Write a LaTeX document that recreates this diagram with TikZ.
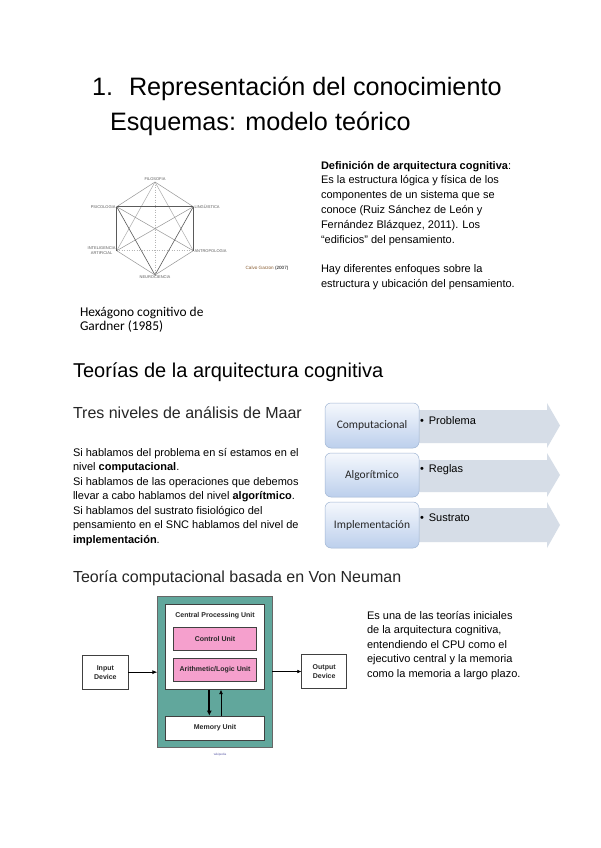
\documentclass[tikz,border=0pt]{standalone}
\usepackage{fontspec}
\setmainfont{Liberation Sans}
\newfontfamily\calib{Carlito}
\usetikzlibrary{arrows.meta}

\definecolor{arrowfill}{RGB}{214,221,231}
\definecolor{boxtop}{RGB}{245,248,253}
\definecolor{boxbot}{RGB}{188,207,236}
\definecolor{boxline}{RGB}{160,182,212}
\definecolor{tealbox}{RGB}{97,167,156}
\definecolor{pinkbox}{RGB}{245,160,205}
\definecolor{hexgray}{RGB}{150,150,150}
\definecolor{hexdark}{RGB}{90,90,90}
\definecolor{vntext}{RGB}{40,40,40}

\tikzset{
  txt/.style={anchor=base west, inner sep=0pt, outer sep=0pt},
  body/.style={txt, font=\fontsize{11}{13}\selectfont},
  hexlab/.style={inner sep=1pt, font=\fontsize{4}{4.5}\selectfont, text=hexdark, align=center},
  hexedge/.style={draw=hexgray, line width=0.5pt},
  hexthick/.style={draw=hexdark, line width=1.1pt},
  hexdiag/.style={draw=hexdark, line width=0.6pt},
  hexdot/.style={draw=hexgray!70, line width=0.5pt, dotted},
  marrbox/.style={draw=boxline, line width=0.5pt, rounded corners=6pt, top color=boxtop, bottom color=boxbot,
     minimum width=94pt, minimum height=45pt, font=\calib\fontsize{11.5}{13}\selectfont, text=black!85},
  bullettxt/.style={txt, font=\fontsize{11}{13}\selectfont},
  vnbox/.style={draw=black!75, line width=0.6pt, fill=white, font=\bfseries\fontsize{7}{9}\selectfont, text=vntext, align=center},
  vnpink/.style={vnbox, fill=pinkbox},
  titletxt/.style={txt, font=\fontsize{25.2}{30}\selectfont},
}

\begin{document}
\begin{tikzpicture}[x=1pt,y=-1pt]
\useasboundingbox (0,0) rectangle (600,848);
\fill[white] (0,0) rectangle (600,848);

% ---------- Title ----------
\node[titletxt] (tnum) at (92,96) {1.};
\node[titletxt] (ttl1) at (129,96) {Representación del conocimiento};
\node[titletxt] (ttl2) at (110,131) {Esquemas: modelo teórico};

% ---------- Hexagon ----------
\coordinate (fil) at (155,182);
\coordinate (psi) at (116.7,206.7);
\coordinate (lin) at (193.3,206.7);
\coordinate (ia)  at (116.7,250.7);
\coordinate (ant) at (193.3,250.7);
\coordinate (neu) at (155,275);

\draw[hexdot] (fil) -- (neu);
\draw[hexdot] (ia) -- (ant);
\draw[hexedge, draw=hexgray!80] (fil) -- (ia);
\draw[hexedge, draw=hexgray!80] (fil) -- (ant);
\draw[hexedge] (psi) -- (ant);
\draw[hexedge] (lin) -- (ia);
\draw[hexdiag] (psi) -- (neu);
\draw[hexdiag] (lin) -- (neu);
\draw[hexedge] (fil) -- (psi);
\draw[hexedge] (fil) -- (lin);
\draw[hexedge] (ia) -- (neu);
\draw[hexedge] (ant) -- (neu);
\draw[hexthick] (psi) -- (lin);
\draw[hexthick] (psi) -- (ia);
\draw[hexthick] (lin) -- (ant);

\node[hexlab, anchor=south] (lfil) at (fil) {FILOSOFIA};
\node[hexlab, anchor=east] (lpsi) at (psi) {PSICOLOGIA};
\node[hexlab, anchor=west] (llin) at (lin) {LINGÜISTICA};
\node[hexlab, anchor=east] (lia) at (ia) {INTELIGENCIA\\ARTIFICIAL};
\node[hexlab, anchor=west] (lant) at (ant) {ANTROPOLOGIA};
\node[hexlab, anchor=north] (lneu) at (neu) {NEUROCIENCIA};
\node[inner sep=0pt, font=\fontsize{4.6}{5}\selectfont] (calvo) at (267,268.5) {\textcolor{brown!70!black}{Calvo Garzon} (2007)};

\node[txt, font=\calib\fontsize{13.4}{15}\selectfont] (cap1) at (80,316) {Hexágono cognitivo de};
\node[txt, font=\calib\fontsize{13.4}{15}\selectfont] (cap2) at (80,330) {Gardner (1985)};

% ---------- Definition text ----------
\node[body] (d1) at (321,169)   {\textbf{Definición de arquitectura cognitiva}:};
\node[body] (d2) at (321,183.9) {Es la estructura lógica y física de los};
\node[body] (d3) at (321,198.8) {componentes de un sistema que se};
\node[body] (d4) at (321,213.7) {conoce (Ruiz Sánchez de León y};
\node[body] (d5) at (321,228.6) {Fernández Blázquez, 2011). Los};
\node[body] (d6) at (321,243.5) {“edificios” del pensamiento.};
\node[body] (d7) at (321,272.5) {Hay diferentes enfoques sobre la};
\node[body] (d8) at (321,287.4) {estructura y ubicación del pensamiento.};

% ---------- Section heading ----------
\node[txt, font=\fontsize{20}{24}\selectfont] (h1) at (73,377) {Teorías de la arquitectura cognitiva};
\node[txt, font=\fontsize{16}{19}\selectfont, text=black!85] (h2) at (73,418) {Tres niveles de análisis de Maar};

\node[body] (p1) at (73,456)   {Si hablamos del problema en sí estamos en el};
\node[body] (p2) at (73,470.5) {nivel \textbf{computacional}.};
\node[body] (p3) at (73,485)   {Si hablamos de las operaciones que debemos};
\node[body] (p4) at (73,499.5) {llevar a cabo hablamos del nivel \textbf{algorítmico}.};
\node[body] (p5) at (73,514)   {Si hablamos del sustrato fisiológico del};
\node[body] (p6) at (73,528.5) {pensamiento en el SNC hablamos del nivel de};
\node[body] (p7) at (73,543)   {\textbf{implementación}.};

% ---------- Marr diagram ----------
\fill[arrowfill] (400,410) -- (547,410) -- (547,403) -- (560,425.5) -- (547,448) -- (547,443) -- (400,443) -- cycle;
\fill[arrowfill] (400,460) -- (547,460) -- (547,453) -- (560,475) -- (547,497) -- (547,492) -- (400,492) -- cycle;
\fill[arrowfill] (400,508) -- (547,508) -- (547,502) -- (560,525) -- (547,548) -- (547,542) -- (400,542) -- cycle;

\node[marrbox] (comp) at (372,425.5) {Computacional};
\node[marrbox, minimum height=44pt] (algo) at (372,475) {Algorítmico};
\node[marrbox, minimum height=46pt] (impl) at (372,525) {Implementación};

\node[bullettxt] (b1) at (420,424) {•\hspace{5pt}Problema};
\node[bullettxt] (b2) at (420,472) {•\hspace{5pt}Reglas};
\node[bullettxt] (b3) at (420,521) {•\hspace{5pt}Sustrato};

% ---------- Von Neumann ----------
\node[txt, font=\fontsize{16}{19}\selectfont, text=black!85] (h3) at (73,582) {Teoría computacional basada en Von Neuman};

\node[draw=black!60, line width=0.6pt, fill=tealbox, minimum width=114.3pt, minimum height=151.3pt, inner sep=0pt] (outer) at (214.85,671.65) {};
\node[vnbox, minimum width=99.4pt, minimum height=84.6pt, inner sep=0pt] (cpu) at (215,647) {};
\node[inner sep=0pt, font=\bfseries\fontsize{7}{9}\selectfont, text=vntext] (cpulab) at (215,616) {Central Processing Unit};
\node[vnpink, minimum width=83.4pt, minimum height=23pt, inner sep=0pt] (cu) at (215,639.2) {Control Unit};
\node[vnpink, minimum width=83.4pt, minimum height=22.3pt, inner sep=0pt] (alu) at (215,669.85) {Arithmetic/Logic Unit};
\node[vnbox, minimum width=99.4pt, minimum height=24pt, inner sep=0pt] (mem) at (215,728) {Memory Unit};
\node[vnbox, minimum width=45.3pt, minimum height=34.3pt, inner sep=0pt, font=\fontsize{7}{9}\selectfont\bfseries] (input) at (105.35,672.15) {Input\\Device};
\node[vnbox, minimum width=45pt, minimum height=34.4pt, inner sep=0pt, font=\fontsize{7}{9}\selectfont\bfseries] (output) at (324.2,671.5) {Output\\Device};

\draw[line width=0.8pt, -{Latex[length=5pt,width=4pt]}] (input.east) -- (input.east -| outer.west);
\draw[line width=0.5pt, -{Latex[length=4pt,width=3.5pt]}] (output.west -| outer.east) -- (output.west);
\draw[line width=1.8pt, -{Latex[length=5pt,width=5pt]}] ([xshift=-5.7pt]cpu.south) -- ([xshift=-5.7pt]mem.north);
\draw[line width=0.8pt, -{Latex[length=4.5pt,width=4pt]}] ([xshift=6pt]mem.north) -- ([xshift=6pt]cpu.south);
\node[inner sep=0pt, font=\fontsize{3}{3.5}\selectfont, text=blue!30!gray] (src) at (220,755) {wikipedia};

\node[body] (v1) at (367,619) {Es una de las teorías iniciales};
\node[body] (v2) at (367,633.5) {de la arquitectura cognitiva,};
\node[body] (v3) at (367,648) {entendiendo el CPU como el};
\node[body] (v4) at (367,662.5) {ejecutivo central y la memoria};
\node[body] (v5) at (367,677) {como la memoria a largo plazo.};
\end{tikzpicture}
\end{document}
